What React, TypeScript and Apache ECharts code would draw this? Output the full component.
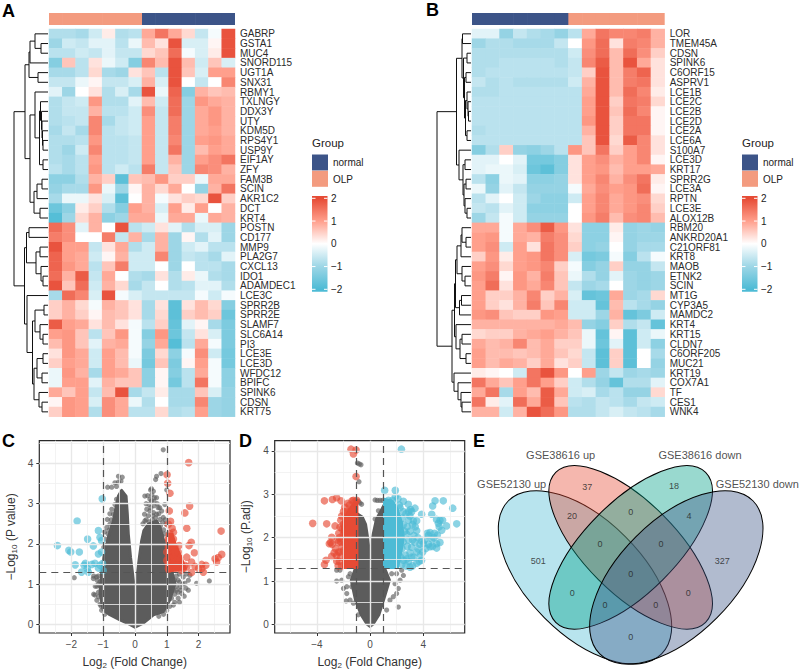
import React, { useEffect, useRef } from "react";
import * as echarts from "echarts";

const FONT = "'Liberation Sans', Arial, sans-serif";

// ---------- Panel A heatmap ----------
const genesA = ["GABRP","GSTA1","MUC4","SNORD115","UGT1A","SNX31","RBMY1","TXLNGY","DDX3Y","UTY","KDM5D","RPS4Y1","USP9Y","EIF1AY","ZFY","FAM3B","SCIN","AKR1C2","DCT","KRT4","POSTN","CD177","MMP9","PLA2G7","CXCL13","IDO1","ADAMDEC1","LCE3C","SPRR2B","SPRR2E","SLAMF7","SLC6A14","PI3","LCE3E","LCE3D","WFDC12","BPIFC","SPINK6","CDSN","KRT75"];
const groupsA = ["OLP","OLP","OLP","OLP","OLP","OLP","OLP","normal","normal","normal","normal","normal","normal","normal"];
const valuesA = [
[-.8,-.8,-.9,-.5,.2,-.8,-.7,.9,1.5,.9,.4,-.6,-.1,1.9],
[-1,-.5,-.6,-.3,-.3,-.7,-.2,.7,.3,1.9,-.4,-.4,.1,1.9],
[-.7,-.7,-.5,-.6,-.3,-.6,-.6,.4,.6,1.6,-.1,-.4,.2,1.9],
[-1.3,.6,-.7,.3,-.2,-.5,-1.3,1.3,.7,1.9,.7,-.5,.6,-.4],
[-.9,-.9,-.7,.4,-.9,-1,.3,.6,-.7,1.9,.6,-.4,1,1],
[-.6,-.6,-.2,.1,-.6,-.6,-.4,.8,-.4,1.9,0,-.6,0,1.3],
[-.3,-1,0,.3,-.8,-.4,-.9,1.9,-.2,1.7,-1.3,.8,.6,.7],
[-.8,-.6,-.5,1.1,-.8,-.8,-.3,.7,-.5,1.6,-1,1.1,.9,.8],
[-.8,-.6,-.6,.8,-.7,-.7,-.5,1.2,-.6,1.6,-1,.9,1.1,.8],
[-.8,-.7,-.6,1.3,-.9,-.6,-.5,1,-.6,1.4,-1,.9,1.1,.8],
[-.9,-.6,-.9,1.3,-.7,-.6,-.5,1,-.6,1.4,-1,.9,1,.8],
[-.8,-.8,-.7,1.1,-.7,-.7,-.6,1,-.6,1.3,-1,1,1.1,.9],
[-.8,-1,-.5,1.3,-.7,-.7,-.6,1,-.6,1.5,-1,.7,1,.9],
[-.8,-.9,-.7,1,-.7,-.7,-.6,1,-.6,.8,-1,1,1.2,1.5],
[-.7,-.9,-.7,1.1,-.7,-.5,-.7,1.4,-.6,.6,-1,1.3,1.2,.8],
[-1.2,-1.2,-.8,.8,.5,-1.8,.6,.7,1.1,.5,.5,-.2,.9,.9],
[-1.1,-.9,-.9,1.1,-.2,-1,.1,.8,.4,.9,0,-1.1,.8,1.5],
[-.9,-.2,-.2,.3,-.4,-1.8,0,.8,-.1,.3,.5,.4,1.9,.5],
[-1.6,-1.2,.2,.5,-.8,-1.3,1,.8,-.4,1,.2,1,0,.8],
[-1.9,-1,.4,.8,-1.2,-1,.9,.9,-.2,.9,.9,-.2,.9,.8],
[1.6,1.2,-.3,.8,0,1.9,-.7,-.5,.3,-.3,-.8,-.4,-.4,-1],
[1.4,1.2,0,0,1.4,-.6,.8,-.9,.8,-1,.1,-.8,-.3,-1],
[1.9,1,1,-.6,.3,.9,-.8,-.5,.8,-1,-.5,-.3,-.7,-.7],
[1.7,1,.9,-.5,.1,.8,-.5,-.5,1.3,-1,-.6,-.7,-.9,-.3],
[1.7,1.1,.9,-.7,.6,1.4,-.5,-.5,0,-1,0,-.7,-.7,-.9],
[1.6,.8,1.8,-.6,.9,0,-.8,-.9,.3,-.8,.2,-.2,-.8,-.9],
[1.9,.6,1.6,-.5,.8,.4,-.9,-.6,0,-.8,-.7,-.3,-.3,-.8],
[-.9,1.6,1.3,-.4,1.9,-.1,-.4,-.6,-.6,-.6,-.6,-.1,-.5,-.1],
[.5,.8,.4,-.1,.8,.6,.3,-.9,.3,-1.8,.3,.7,.4,-1.3],
[.5,.8,.5,.1,.7,.6,.3,-.9,.4,-1.8,.5,.7,.5,-1.6],
[1.8,1,.9,.3,.7,.3,-.1,-.7,.5,-1.7,-.3,.1,-.9,-1.4],
[1,1.1,.6,-.7,.6,1.1,-.1,-1.3,1.1,-1.6,-.6,.3,-.4,-1.4],
[.7,1.1,.6,-.3,.8,.9,-.1,-1.1,.9,-1.9,-.7,.9,-.1,-1.4],
[.3,1.1,.9,-.5,1,.7,-.1,-1.4,.4,-1.2,-.1,1.2,-.5,-1.5],
[.5,1,.9,-.5,1,.7,-.2,-1.5,.6,-1.4,.1,1,-.1,-1.5],
[-.2,1.1,.8,-.9,1,.9,.6,-1.2,.1,-1.3,-.7,.9,-.1,-1.2],
[-.2,1,1,-.3,.8,.6,.6,-1.2,.1,-1.5,-.7,1.5,-.1,-1.2],
[.9,.6,1,-.6,.7,1.9,-.9,-.6,.2,-.9,-.9,.6,-.4,-1.1],
[.1,1.1,1,-.4,1.2,.9,-.2,-.8,0,-.9,-.9,1.3,-1,-1.1],
[.5,1.1,1,-.8,1.2,.9,-.7,-.7,.4,-.8,-.7,1,-1,-1.1],
];
// dendrogram: [height, left, right], 0 = next leaf
const treeA: any = [34,
  [23,
    [19,[18,[13,0,[7,0,0]],0],[10,0,0]],
    [18,[13,0,[8.5,[7.5,0,[6.5,0,[6,0,[5.5,0,[5,0,0]]]]],[5,0,0]]],[14,[11,[6,0,0],0],[8,0,0]]]],
  [23.5,
    [21.5,[19,0,0],[12,[8,0,0],[7,0,[5,0,0]]]],
    [21,0,[15.5,[13,[4,0,0],[8,0,[5,0,0]]],[14,[11,[5,0,0],[6,0,0]],[9,0,[6,0,0]]]]]]];

// ---------- Panel B heatmap ----------
const genesB = ["LOR","TMEM45A","CDSN","SPINK6","C6ORF15","ASPRV1","LCE1B","LCE2C","LCE2B","LCE2D","LCE2A","LCE6A","S100A7","LCE3D","KRT17","SPRR2G","LCE3A","RPTN","LCE3E","ALOX12B","RBM20","ANKRD20A1","C21ORF81","KRT8","MAOB","ETNK2","SCIN","MT1G","CYP3A5","MAMDC2","KRT4","KRT15","CLDN7","C6ORF205","MUC21","KRT19","COX7A1","TF","CES1","WNK4"];
const groupsB = ["normal","normal","normal","normal","normal","normal","normal","OLP","OLP","OLP","OLP","OLP","OLP","OLP"];
const valuesB = [
[-.3,-.3,-1.1,-.6,-.8,-.9,-1.1,-.7,.9,1.5,1.3,1.3,1.4,.8],
[-1,-.8,-.8,-.9,-.9,-.9,-.6,0,1.1,1.6,.3,1.4,1.3,.8],
[-.8,-.8,-.8,-.8,-.8,-.8,-.8,-.5,1.2,1.6,.7,1.6,1.2,.5],
[-.8,-.8,-.7,-.7,-.7,-.7,-.8,-.6,1.3,1.8,.7,1.9,.9,.3],
[-.8,-.7,-.7,-.7,-.7,-.7,-.7,-.6,.5,1.9,.7,1.4,1.7,.3],
[-.6,-.8,-.7,-.8,-.8,-.8,-.8,-.5,.8,1.9,.7,1.4,1.5,.3],
[-.8,-.8,-.7,-.7,-.7,-.7,-.7,-.7,.9,1.9,.7,1.6,1.3,.2],
[-.7,-.7,-.7,-.7,-.7,-.7,-.7,-.7,1,1.9,.5,1.5,1.4,.4],
[-.7,-.7,-.7,-.7,-.7,-.7,-.7,-.7,1,1.9,.6,1.6,1.3,.1],
[-.7,-.7,-.7,-.7,-.7,-.7,-.7,-.7,1.1,1.9,.5,1.5,1.5,.1],
[-.8,-.7,-.7,-.7,-.7,-.7,-.7,-.7,.8,1.9,.5,1.5,1.5,.1],
[-.7,-.7,-.7,-.7,-.7,-.7,-.7,-.7,.6,1.9,.4,1.8,1.3,.3],
[-1.3,-.8,.5,-1.1,-1.2,-1,-.7,1.1,.6,1.5,.5,1,1.3,.3],
[-.3,-.3,0,-.3,-1.5,-1.5,-1.3,.3,1,1.2,.8,1,1.3,.1],
[-.3,-.2,-.2,-.4,-1.6,-1.8,-1.3,.3,1,1.1,.7,1,1,.9],
[-.7,-1.2,-.2,-.3,-1.2,-1.2,-1.1,.3,1,1.3,.8,1.2,1.5,.2],
[-.2,-1.1,-.3,-.6,-1.1,-1.1,-1.1,-.1,.9,1.2,1,1.1,1.6,.1],
[-.7,-.3,0,-.5,-1,-1.2,-1.2,-.5,1,1.3,.9,1.1,1.2,.4],
[-.6,-.7,-.3,-.5,-1.2,-1.2,-1.2,0,1,1.3,.9,1.1,1.3,.5],
[-1,-.6,-.1,-.5,-1.1,-1.1,-1.1,0,1.1,1.4,.7,1.2,1.3,.7],
[.9,.9,-.1,.9,1.2,1.8,1.1,.3,-1.2,-1.2,.2,-1.1,-1,-1.1],
[1,1.1,-.1,.9,.8,1.4,1.2,.4,-1.2,-1.2,.1,-1.1,-1,-1],
[1,1.2,-.5,1,.3,1.5,1.2,.5,-1.2,-1.1,0,-1.1,-.9,-.9],
[.5,1.1,.2,1,1.1,1.5,1.2,-.4,-1.5,-1.4,-.1,-1.3,-.7,-.1],
[1,1.2,.4,1,1.1,1.3,.5,-.1,-1.3,-1.1,.5,-1.1,-1.1,-.6],
[1.1,1.4,.1,1.1,.8,1.4,.6,-.2,-.8,-1.1,-.3,-1,-1.1,-1],
[1,1.6,.3,1.1,.9,1.3,.6,-.6,-1,-.9,0,-1,-1.1,-1],
[1,.5,.5,.8,1.3,.5,.8,-.4,-1.7,-1.6,.9,-1,-.9,.4],
[1,.5,.3,.8,1.4,.6,1.3,-.5,-.5,-1.7,.7,-.7,-.9,-1.1],
[1.1,1.2,.6,.5,.5,1.1,1,-.5,-.5,-1,.8,-1.7,-1.4,-.5],
[.8,.8,.8,.8,.8,.8,.9,.7,-1.1,-1.3,.5,-.8,-.6,-1.7],
[.4,.5,.5,.8,.9,1,.8,.6,-.2,-1.7,.1,-1.8,-.5,-.2],
[.9,.7,.8,1.3,.7,.9,.5,.5,-.2,-1.6,-.3,-1.8,-.5,-1.2],
[1,.7,.7,.6,.7,.9,.6,.4,-.6,-1.8,.5,-1.8,0,-.9],
[1,.7,.9,.8,.5,.9,.3,.5,-.6,-1.8,.5,-1.8,0,-1.1],
[.2,.1,0,-.5,1.5,1.9,1.1,0,1,-1,-.6,-1,-.9,-1],
[1.5,.9,.6,1,1.5,1,.5,-.5,-.8,-1.1,-1.7,-.8,-.8,-.3],
[.9,1.5,-.9,1,.7,1.8,.9,-.5,-.4,-.9,-.7,-1.1,-1.1,.4],
[1.5,.2,-.3,1.6,.9,1.8,.6,-.7,-.8,-.6,-.7,-.9,-.6,-.5],
[.8,.8,-.5,.8,1.9,1.6,1.1,-.8,-.8,-.6,-.4,-.6,-.7,-.9],
];
const treeB: any = [34,
  [14.5,
    [9,[8.5,0,0],[7.5,[4,0,0],[6.5,[5,0,0],[5.5,[4,0,[3,0,[2.5,0,0]]],[4,0,0]]]]],
    [12,0,[8,[6,0,0],[7,[5,0,0],[6,0,[4,0,0]]]]]],
  [19,
    [16.5,
      [15.5,[14,[10,[9,0,[5,0,0]],0],[9,0,[6,0,0]]],[11.5,[9.5,0,0],0]],
      [15,0,[11,[9,0,0],[5,0,0]]]],
    [17,0,[13,0,[10,0,[9,0,0]]]]]];

// ---------- Panel C volcano ----------
const ticksXC = [-2,-1,0,1,2];
const ticksYC = [0,1,2,3,4];
const gridXC = [-2.5,-2,-1.5,-1,-.5,0,.5,1,1.5,2,2.5];
const gridYC = [0,.5,1,1.5,2,2.5,3,3.5,4,4.5];
// outline of the solid dense cloud of grey points
const denseC = [[0,.57],[-.05,1.1],[-.14,1.67],[-.21,2.25],[-.24,2.74],[-.28,3.19],[-.42,3.33],[-.52,3.19],[-.6,2.9],[-.68,2.57],[-.84,2.16],[-.98,1.67],[-1.05,1.26],[-1.1,.77],[-1,.36],[-.79,.24],[-.47,.11],[-.16,0],[0,-.07],[.26,.03],[.58,.24],[.89,.32],[1.1,.61],[1.26,1.02],[1.15,1.34],[1,1.75],[.89,2.12],[.79,2.41],[.68,2.57],[.42,2.49],[.28,2.33],[.21,2.08],[.14,1.67],[.05,1.1]];
const denseUpC = [[1,2.25],[1.18,2.25],[1.3,1.95],[1.45,1.7],[1.6,1.38],[1,1.3]];
const greyC = [[.89,4.34],[.82,3.75],[.68,3.68],[.65,3.6],[1,3.34],[.52,3.37],[.49,3.34],[.58,3.31],[.31,3.19],[.4,3.2],[.47,3.11],[.61,3.15],[.68,3.15],[.52,3.07],[.44,2.98],[.37,2.86],[.3,2.74],[.42,2.7],[.31,2.57],[.58,2.78],[.47,2.82],[.68,2.74],[.79,2.61],[.89,2.66],[.84,2.82],[.94,2.98],[.73,2.9],[.98,2.49],[.94,2.25],[.87,2.53],[-.86,3.41],[-.73,3.41],[-.63,3.52],[-.52,3.68],[-.4,3.66],[-.52,3.54],[-.44,3.56],[-.58,3.43],[-.79,2.75],[-.87,2.61],[-.73,2.86],[-.68,2.74],[-.79,2.49],[-.89,2.41],[-.63,2.98],[-.58,3.11],[-.94,2.12],[-.91,1.96],[-.98,1.92],[-1.91,1.16],[-1.31,1.14],[-1.19,1.1],[-1.1,1.06],[-1.26,.73],[-1.15,.69],[-1.21,1.18],[-1.07,.46],[1.94,1.02],[2.34,1.08],[1.68,.85],[1.57,1.02],[1.68,1.1],[1.47,.77],[1.36,.65],[1.21,.48],[1.42,.93],[1.31,.85],[1.52,1.18],[1.36,1.1],[1.21,.85],[1.73,1.22],
[.35,3],[.5,2.9],[.6,2.95],[.75,2.75],[.55,2.6],[.65,2.65],[.8,2.45],[.9,2.35],[.95,2.6],[.35,2.6],[.45,2.55],[.25,2.5],[.85,2.2],[.95,2.05],[.98,1.85],[.7,3],[.6,3.05],[.53,3.22],[.56,2.7],[.78,2.9],
[-1.2,.95],[-1.15,1],[-1.3,.75],[-1.2,.6],[-1.1,.5],[-1.15,.8],[-1.25,.95],[-1.1,.95],[-1.3,1.2],[-1.15,1.2],[-1.05,.35],[-.95,.25],
[1.3,1.2],[1.4,1.25],[1.25,1.1],[1.3,.95],[1.4,1.05],[1.5,1],[1.45,.85],[1.35,.8],[1.25,.75],[1.15,.65],[1.25,.55],[1.1,.45],[1,.35],[.9,.25],[.75,.2],[1.62,1.25],[1.6,.9],[1.55,.7],[1.4,.55],
[-.75,2.6],[-.8,2.35],[-.7,2.45],[-.85,2.25],[-.95,2.3]];
const upC = [[1.69,4.02],[1.01,3.72],[1.03,3.51],[1.1,3.26],[1.72,2.94],[1.08,2.82],[1.57,2.77],[1.12,2.56],[1.63,2.39],[2.71,2.32],[1.17,2.39],[1.21,2.29],[1.77,2.04],[1.7,1.96],[1.39,1.96],[1.21,2.12],[1.26,1.92],[1.05,1.92],[1.1,1.75],[1.36,1.8],[1.87,1.78],[2.73,1.74],[2.62,1.66],[2.52,1.63],[2.57,1.55],[1.63,1.67],[1.78,1.55],[1.36,1.67],[1.31,1.59],[1.47,1.47],[1.26,1.47],[1.15,1.55],[1.31,1.39],[1.63,1.43],[1.89,1.44],[2.1,1.49],[2.23,1.47],[2.15,1.3],[1.78,1.29],[1.47,1.34],[1.05,2.12],[1.05,1.67],[1.1,2],[1.15,1.84],[1.05,1.51],[1.15,1.39],[1.05,1.39],[1.21,1.67],[1.26,1.8],[1.42,1.47],[1,1.8],[1.05,2.49],[1.1,2.25],[1,1.59],[1.31,1.47],[1.52,1.39],[1.57,1.47],[2,1.39],[2.1,1.39]];
const downC = [[-1.03,3.12],[-1.82,2.57],[-1.15,2.33],[-1.1,2.16],[-1.05,2.08],[-1.49,2.12],[-2.44,1.96],[-1.31,1.95],[-1.75,1.8],[-2.08,1.84],[-2.02,1.8],[-1.15,1.75],[-1.05,1.8],[-1.88,1.48],[-1.56,1.52],[-1.6,1.47],[-1.36,1.49],[-1.26,1.52],[-1.1,1.47],[-1.5,1.39],[-1.68,1.3],[-1.15,1.4],[-1.02,1.51],[-1.47,1.3],[-1,1.34]];

// ---------- Panel D volcano ----------
const ticksXD = [-4,0,4];
const ticksYD = [0,1,2,3,4];
const gridXD = [-6,-4,-2,0,2,4,6];
const gridYD = [0,.5,1,1.5,2,2.5,3,3.5,4];
const denseD = [[0,1.63],[-.15,2.01],[-.3,2.31],[-.55,2.48],[-.95,2.56],[-1.13,2.43],[-1.13,1.3],[-1.45,1.02],[-1.13,.56],[-.7,.22],[-.25,0],[0,-.06],[.25,0],[.7,.22],[1.05,.56],[1.5,1.02],[1.13,1.3],[1.05,2.77],[.75,2.6],[.45,2.43],[.2,2.08],[.05,1.78]];
const denseUpD = [[-.95,2.88],[-1.25,2.8],[-1.63,2.62],[-2,2.43],[-2.13,2.16],[-1.95,1.93],[-2,1.55],[-2.05,1.3],[-.95,1.3]];
const denseDownD = [[1.05,2.9],[1.7,2.85],[2.1,2.65],[2.4,2.35],[2.55,2],[2.35,1.65],[2.1,1.3],[1.05,1.3]];
const greyD = [[-.8,3.7],[-.95,3.72],[-.68,3.68],[-.83,3.29],[-.88,2.84],[-.75,2.8],[-.63,2.77],[.38,2.87],[.55,2.86],[.75,2.86],[.95,2.86],[.63,2.62],[.38,2.43],[.5,2.31],[-2.51,1],[-2.51,1.25],[-2.26,1.25],[-2.13,1.02],[-1.8,.54],[-2,.83],[-1.75,.71],[-1.5,.56],[-1.63,1.1],[-1.5,1.17],[-1.75,.87],[-1.38,.87],[-1.25,.49],[-.88,.22],[2.13,.4],[2,.71],[2.51,1.13],[2.26,1.02],[2.13,.83],[1.88,.94],[1.75,.64],[1.63,1.17],[2,1.17],[1.25,.33],[1.5,.56],[2.38,1.25]];
const upD = [[-1.43,4.04],[-1.05,4.02],[-1.25,3.93],[-1.05,3.41],[-3.43,2.85],[-2.83,2.88],[-2.51,2.92],[-2.18,2.85],[-1.68,2.79],[-1.25,2.86],[-1,2.86],[-4.31,2.33],[-3.26,2.32],[-2.63,2.27],[-2.26,2.24],[-2.13,2.5],[-1.75,2.54],[-1.5,2.6],[-2.88,2.01],[-2.96,1.89],[-3.06,1.86],[-2.38,1.89],[-2.26,1.67],[-2.38,1.67],[-2.88,1.57],[-2.51,1.59],[-3.31,1.48],[-3.43,1.38],[-2.51,1.46],[-2,2.08],[-2.13,1.97],[-2,2.31],[-1.88,1.86],
[-1.2,2.7],[-1.4,2.65],[-1.55,2.75],[-1.8,2.6],[-2,2.6],[-2.2,2.4],[-2.35,2.1],[-2.45,1.95],[-2.1,1.8],[-2.2,1.55],[-2.3,1.45],[-2.15,1.35],[-2.4,1.35],[-2.6,1.75],[-2.7,1.65],[-2.1,2.2],[-2,1.7],[-2.85,1.85],[-2.3,2],[-1.9,2.7],[-1.35,2.85],[-1.15,2.82],[-2.2,1.9]];
const downD = [[2.36,4.04],[1.1,3.09],[1.9,3.09],[4.89,2.85],[5.51,2.85],[6.22,2.68],[4.71,2.73],[4.64,2.54],[3.88,2.54],[3.38,2.68],[2.88,2.77],[2.51,2.84],[1.7,2.86],[1.38,2.86],[2.26,2.69],[3.13,2.6],[3.26,2.39],[3.51,2.39],[5.26,2.4],[5.46,2.4],[5.14,2.33],[6.52,2.32],[5.76,2.27],[5.39,2.17],[5.06,2.06],[4.51,2.12],[4.39,2.05],[4.64,1.97],[5.26,1.89],[5.01,1.86],[4.51,1.79],[5.01,1.76],[3.88,1.93],[4.01,1.86],[3.38,1.89],[3.13,1.78],[3.63,1.74],[3.96,1.67],[3.51,1.67],[3.88,1.48],[3.51,1.41],[3.01,1.32],[2.76,1.51],[3.13,1.55],[2.51,1.48],[3.51,2.16],[2.76,2.08],
[2.2,2.75],[2.5,2.6],[2.7,2.55],[2.9,2.4],[2.5,2.3],[2.8,2.25],[3,2.15],[3.3,2.05],[3.6,2],[3,2.5],[2.9,2.6],[3.2,2.3],[3.4,2.25],[2.4,2.45],[2.6,2.15],[2.9,1.95],[3.2,1.95],[2.5,1.9],[2.8,1.8],[2.4,1.75],[3,1.65],[2.65,1.6],[3.3,1.55],[2.3,1.55],[2.9,1.45],[2.4,1.38],[2.7,1.35],[3.2,1.35],[3.7,1.45],[4.1,1.95],[3.75,1.85],[4.2,1.75],[3.8,1.6],[4.4,1.85],[4.7,1.8],[4.8,2],[4.3,2.1],[4.85,2.1],[1.9,2.95],[2.1,2.9],[3.05,2.65],[5.2,2.25],[5,2.42]];

// ---------- Panel E venn ----------
const vennSets = ["GSE52130 up","GSE38616 up","GSE38616 down","GSE52130 down"];
const vennSetAnchors = [[125,177],[272,90],[690,90],[862,177]];
const vennCounts = [37,20,18,4,501,327,0,0,0,0,0,0,0,0,0];
const vennCountAnchors = [[352,185],[306,272],[612,184],[657,272],[205,407],[757,407],[482,262],[390,358],[573,358],[482,447],[307,505],[655,505],[405,541],[557,541],[482,637]];
const vennShapes = [[345,457,325,172,-1],[482,367,318,137,-1],[482,367,318,137,1],[619,457,325,172,1]];
const vennFills = ["rgba(77,187,213,.4)","rgba(230,75,53,.4)","rgba(0,160,135,.4)","rgba(60,84,136,.4)"];

const heatStops = ["#4DBBD5","#9DD6E6","#FFFFFF","#FF9F8C","#E64B35"];
const groupColor: Record<string,string> = { normal: "#3C5488", OLP: "#F39B7F" };
const RED = "#E64B35", BLUE = "#4DBBD5", GREY = "#5c5c5c";
const legendTicks = [2,1,0,-1,-2];

function flatten(tree: any) {
  const segs: number[][] = [];
  let next = 0;
  const walk = (n: any): { y: number; h: number } => {
    if (n === 0) return { y: next++ + 0.5, h: 0 };
    const l = walk(n[1]); const r = walk(n[2]);
    segs.push([l.h,l.y,n[0],l.y],[n[0],l.y,n[0],r.y],[r.h,r.y,n[0],r.y]);
    return { y: (l.y + r.y) / 2, h: n[0] };
  };
  walk(tree);
  return segs;
}
const cells = (rows: number[][]) => rows.flatMap((r, y) => r.map((v, x) => [x, y, v]));
const columns = Array.from({ length: 14 }, (_, i) => String(i + 1));

function heatPanel(base: number, left: number, top: number, w: number, h: number, genes: string[], groups: string[], values: number[][], tree: any, treeLeft: number) {
  const grids = [
    { left, top, width: w, height: h },
    { left, top: 13, width: w, height: 12 },
    { left: treeLeft, top, width: 40, height: h },
  ];
  const hidden = { show: false };
  const xAxes = [
    { type: "category", gridIndex: base, data: columns, ...hidden },
    { type: "category", gridIndex: base + 1, data: columns, ...hidden },
    { type: "value", gridIndex: base + 2, min: 0, max: 40, inverse: true, ...hidden },
  ];
  const yAxes = [
    { type: "category", gridIndex: base, data: genes, inverse: true, position: "right",
      axisLine: hidden, axisTick: hidden, splitLine: hidden,
      axisLabel: { interval: 0, fontSize: 10, color: "#2b2b2b", margin: 5, fontFamily: FONT } },
    { type: "value", gridIndex: base + 1, min: 0, max: 1, ...hidden },
    { type: "value", gridIndex: base + 2, min: 0, max: 40, inverse: true, ...hidden },
  ];
  const series = [
    { type: "custom", xAxisIndex: base + 2, yAxisIndex: base + 2, clip: false, silent: true,
      data: flatten(tree), encode: { x: [0, 2], y: [1, 3] },
      renderItem: (_: any, api: any) => {
        const a = api.coord([api.value(0), api.value(1)]);
        const b = api.coord([api.value(2), api.value(3)]);
        return { type: "line", shape: { x1: a[0], y1: a[1], x2: b[0], y2: b[1] }, style: { stroke: "#111", lineWidth: 1 } };
      } },
    // annotation strip; each cell slightly overlaps the next so that no seam shows
    { type: "custom", xAxisIndex: base + 1, yAxisIndex: base + 1, clip: false, silent: true,
      data: groups.map((_, i) => [i, 1]), encode: { x: 0, y: 1 },
      renderItem: (p: any, api: any) => {
        const c = api.coord([api.value(0), 1]);
        const o = api.coord([api.value(0), 0]);
        const cw = api.size([1, 0])[0];
        const last = p.dataIndex === groups.length - 1 ? 0 : 0.6;
        return { type: "rect", shape: { x: c[0] - cw / 2, y: c[1], width: cw + last, height: o[1] - c[1] },
          style: { fill: groupColor[groups[p.dataIndex]] } };
      } },
  ];
  const heat = { type: "heatmap", xAxisIndex: base, yAxisIndex: base, data: cells(values), progressive: 0, silent: true };
  return { grids, xAxes, yAxes, series, heat };
}

const sub = (pre: string, s: string, post: string) => `{t|${pre}}{s|${s}}{t|${post}}`;
const richName = { rich: {
  t: { fontSize: 12, color: "#333", fontFamily: FONT, lineHeight: 15 },
  s: { fontSize: 8, color: "#333", fontFamily: FONT, lineHeight: 9, verticalAlign: "bottom" },
} };
const signed = (v: number | string) => String(v).replace("-", "\u2212");

function polygonSeries(points: number[][], color: string, xi: number, z: number, halo = 3) {
  return { type: "custom", xAxisIndex: xi, yAxisIndex: xi, silent: true, z, clip: true,
    data: points, encode: { x: 0, y: 1 },
    renderItem: (p: any, api: any) => p.dataIndex === 0
      ? { type: "polygon", shape: { points: points.map((q) => api.coord(q)) },
          style: { fill: color, stroke: color, lineWidth: halo, lineJoin: "round" } }
      : null };
}
const scatter = (data: number[][], color: string, size: number, xi: number, z: number, opacity = 0.65) =>
  ({ type: "scatter", xAxisIndex: xi, yAxisIndex: xi, data, symbolSize: size, silent: true, z,
     itemStyle: { color, opacity } });
const ref = (xs: number[], ys: number[], xi: number, style: any, z: number) =>
  ({ type: "scatter", xAxisIndex: xi, yAxisIndex: xi, data: [], silent: true, z,
     markLine: { silent: true, symbol: "none", animation: false, label: { show: false },
       lineStyle: style, data: [...xs.map((v) => ({ xAxis: v })), ...ys.map((v) => ({ yAxis: v }))] } });

function volcanoAxes(gi: number, xr: number[], yr: number[], tx: number[], ty: number[], yName: string) {
  const tick = { show: true, length: 3, lineStyle: { color: "#333", width: 1 } };
  const label = { fontSize: 10, color: "#4d4d4d", fontFamily: FONT, margin: 6, formatter: (v: number) => signed(v) };
  return {
    x: { type: "value", gridIndex: gi, min: xr[0], max: xr[1], splitLine: { show: false },
      axisLine: { show: false, onZero: false }, axisTick: { ...tick, customValues: tx },
      axisLabel: { ...label, customValues: tx }, name: sub("Log", "2", " (Fold Change)"),
      nameLocation: "middle", nameGap: 21, nameTextStyle: richName },
    y: { type: "value", gridIndex: gi, min: yr[0], max: yr[1], splitLine: { show: false },
      axisLine: { show: false, onZero: false }, axisTick: { ...tick, customValues: ty },
      axisLabel: { ...label, customValues: ty }, name: yName,
      nameLocation: "middle", nameGap: 21, nameTextStyle: richName },
  };
}

export default function App() {
  const el = useRef<HTMLDivElement>(null);
  useEffect(() => {
    const chart = echarts.init(el.current!, null, { renderer: "svg" });
    const A = heatPanel(0, 49, 29, 186, 387.7, genesA, groupsA, valuesA, treeA, 8);
    const B = heatPanel(3, 472, 29, 192.7, 387.7, genesB, groupsB, valuesB, treeB, 431);

    const volC = volcanoAxes(6, [-3.01, 2.99], [-0.214, 4.566], ticksXC, ticksYC, sub("\u2212Log", "10", " (P value)"));
    const volD = volcanoAxes(7, [-7.17, 7.12], [-0.198, 4.236], ticksXD, ticksYD, sub("\u2212Log", "10", " (P.adj)"));
    const frame = { show: true, borderColor: "#2a2a2a", borderWidth: 1.2, backgroundColor: "#fff" };
    const minor = { color: "#f0f0f0", width: 0.8, type: "solid" };
    const major = { color: "#e8e8e8", width: 1.4, type: "solid" };
    const dash = { color: "#555", width: 1.2, type: [7, 5] };

    const vennGrid = { left: 470, top: 425, width: 330, height: 245 };
    const hiddenMark = { color: "rgba(0,0,0,0)" };

    const series: any[] = [
      A.heat, B.heat, ...A.series, ...B.series,
      // C
      ref(gridXC.filter((v) => !ticksXC.includes(v)), gridYC.filter((v) => !ticksYC.includes(v)), 6, minor, 1),
      ref(ticksXC, ticksYC, 6, major, 1),
      polygonSeries(denseC, GREY, 6, 2),
      scatter(greyC, GREY, 5.2, 6, 3),
      polygonSeries(denseUpC, RED, 6, 4, 2),
      scatter(upC, RED, 7.6, 6, 4),
      scatter(downC, BLUE, 7.6, 6, 4),
      ref([-1, 1], [1.3], 6, dash, 5),
      // D
      ref(gridXD.filter((v) => !ticksXD.includes(v)), gridYD.filter((v) => !ticksYD.includes(v)), 7, minor, 1),
      ref(ticksXD, ticksYD, 7, major, 1),
      polygonSeries(denseD, GREY, 7, 2, 2),
      scatter(greyD, GREY, 5.2, 7, 3),
      polygonSeries(denseUpD, RED, 7, 4, 2),
      polygonSeries(denseDownD, BLUE, 7, 4, 2),
      scatter(upD, RED, 7.6, 7, 4),
      scatter(downD, BLUE, 7.6, 7, 4),
      ref([-1, 1], [1.3], 7, dash, 5),
      // E
      { type: "custom", xAxisIndex: 8, yAxisIndex: 8, silent: true, clip: false, z: 2,
        data: vennShapes.map((s, i) => [s[0], s[1], s[2], s[3], s[4], i]), encode: { x: 0, y: 1 },
        renderItem: (_: any, api: any) => {
          const c = api.coord([api.value(0), api.value(1)]);
          const sz = api.size([api.value(2), api.value(3)]);
          return { type: "ellipse", x: c[0], y: c[1], rotation: api.value(4) * Math.PI / 4,
            shape: { cx: 0, cy: 0, rx: sz[0], ry: sz[1] },
            style: { fill: vennFills[api.value(5)], stroke: "#000", lineWidth: 1 } };
        } },
      { type: "scatter", xAxisIndex: 8, yAxisIndex: 8, silent: true, z: 3, symbolSize: 1, itemStyle: hiddenMark,
        data: vennCounts.map((v, i) => [vennCountAnchors[i][0], vennCountAnchors[i][1], v]),
        label: { show: true, position: "inside", color: "#222", fontSize: 9, fontFamily: FONT, formatter: (p: any) => String(p.value[2]) } },
      { type: "scatter", xAxisIndex: 8, yAxisIndex: 8, silent: true, z: 3, symbolSize: 1, itemStyle: hiddenMark,
        data: vennSets.map((n, i) => ({ name: n, value: vennSetAnchors[i] })),
        label: { show: true, position: "inside", color: "#222", fontSize: 11, fontFamily: FONT, formatter: (p: any) => p.name } },
    ];

    const legend = (x: number) => {
      const top = 196, H = 95.7, unit = 22.75, y2 = 198.3;
      const yOf = (v: number) => y2 + (2 - v) * unit;
      const stopFrac = (v: number) => (yOf(v) - top) / H;
      return [
        { type: "text", x, y: 143, style: { text: "Group", fontSize: 11.5, fill: "#222", fontFamily: FONT, verticalAlign: "middle" } },
        { type: "rect", shape: { x, y: 154.5, width: 16, height: 16 }, style: { fill: groupColor.normal } },
        { type: "rect", shape: { x, y: 170.8, width: 16, height: 16 }, style: { fill: groupColor.OLP } },
        { type: "text", x: x + 21, y: 162.5, style: { text: "normal", fontSize: 10, fill: "#222", fontFamily: FONT, verticalAlign: "middle" } },
        { type: "text", x: x + 21, y: 179, style: { text: "OLP", fontSize: 10, fill: "#222", fontFamily: FONT, verticalAlign: "middle" } },
        { type: "rect", shape: { x, y: top, width: 15.5, height: H },
          style: { fill: new echarts.graphic.LinearGradient(0, 0, 0, 1, [
            { offset: 0, color: heatStops[4] }, { offset: stopFrac(2), color: heatStops[4] },
            { offset: stopFrac(1), color: heatStops[3] }, { offset: stopFrac(0), color: heatStops[2] },
            { offset: stopFrac(-1), color: heatStops[1] }, { offset: stopFrac(-2), color: heatStops[0] },
            { offset: 1, color: heatStops[0] } ]) } },
        ...legendTicks.flatMap((v) => [
          { type: "line", shape: { x1: x, y1: yOf(v), x2: x + 3.5, y2: yOf(v) }, style: { stroke: "#fff", lineWidth: 1 } },
          { type: "line", shape: { x1: x + 12, y1: yOf(v), x2: x + 15.5, y2: yOf(v) }, style: { stroke: "#fff", lineWidth: 1 } },
          { type: "text", x: x + 19, y: yOf(v), style: { text: signed(v), fontSize: 10, fill: "#222", fontFamily: FONT, verticalAlign: "middle" } },
        ]),
      ];
    };
    const letter = (t: string, x: number, y: number) =>
      ({ type: "text", x, y, style: { text: t, fontSize: 18, fontWeight: "bold", fill: "#000", fontFamily: FONT, verticalAlign: "middle" } });

    chart.setOption({
      animation: false,
      textStyle: { fontFamily: FONT },
      grid: [
        ...A.grids, ...B.grids,
        { left: 39.3, top: 440.7, width: 190.7, height: 194.3, ...frame },
        { left: 274.7, top: 440.7, width: 190, height: 194.3, ...frame },
        vennGrid,
      ],
      xAxis: [...A.xAxes, ...B.xAxes, volC.x, volD.x,
        { type: "value", gridIndex: 8, min: 0, max: 990, show: false }],
      yAxis: [...A.yAxes, ...B.yAxes, volC.y, volD.y,
        { type: "value", gridIndex: 8, min: 0, max: 735, inverse: true, show: false }],
      visualMap: { type: "continuous", show: false, min: -2, max: 2, seriesIndex: [0, 1], inRange: { color: heatStops } },
      series,
      graphic: [ ...legend(312), ...legend(742),
        letter("A", 2, 11), letter("B", 426, 10), letter("C", 2, 441), letter("D", 239, 441), letter("E", 473, 441) ],
    });
    return () => chart.dispose();
  }, []);
  return <div ref={el} style={{ position: "absolute", left: 0, top: 0, width: 800, height: 670 }} />;
}
